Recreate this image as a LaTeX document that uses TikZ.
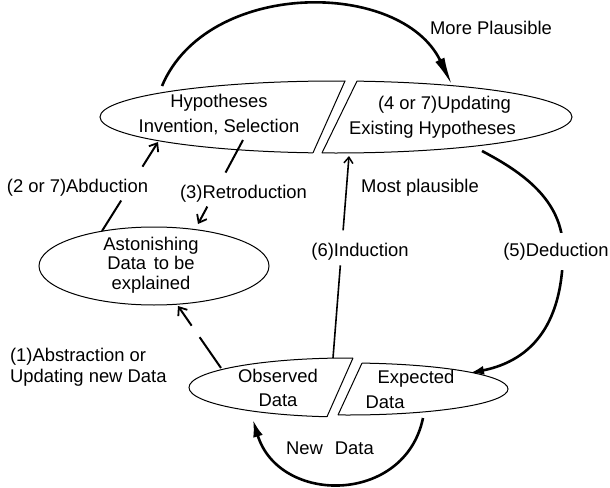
\documentclass[tikz,border=0pt]{standalone}
\usepackage{fontspec}
\setmainfont{Liberation Sans}
\usetikzlibrary{arrows.meta}
\begin{document}
\begin{tikzpicture}[x=1pt,y=-1pt,
  outline/.style={line width=1pt},
  lbl/.style={font=\fontsize{18.4pt}{22pt}\selectfont, inner sep=0pt},
  arcline/.style={line width=2.6pt},
  conn/.style={line width=2pt, -{Straight Barb[length=7pt,width=11pt,line width=1.8pt]}},
  thinconn/.style={line width=1.6pt, -{Straight Barb[length=6pt,width=9pt,line width=1.5pt]}},
]
\useasboundingbox (0,0) rectangle (610,487);

% ---- top ellipse, left piece
\begin{scope}
  \clip (90,60) -- (354.9,60) -- (305.3,170) -- (90,170) -- cycle;
  \draw[outline] (336,117) ellipse [x radius=236pt, y radius=36pt];
\end{scope}
\draw[outline] (345,81.0) -- (313,152.8);
% ---- top ellipse, right piece
\begin{scope}
  \clip (367.2,60) -- (590,60) -- (590,170) -- (313.7,170) -- cycle;
  \draw[outline] (336,117) ellipse [x radius=236pt, y radius=36pt];
\end{scope}
\draw[outline] (357,81.1) -- (322,152.9);
% ---- bottom ellipse, left piece
\begin{scope}
  \clip (180,340) -- (360.9,340) -- (321.3,430) -- (180,430) -- cycle;
  \draw[outline] (348,387.5) ellipse [x radius=159pt, y radius=29.5pt];
\end{scope}
\draw[outline] (353,358.0) -- (327,416.7);
% ---- bottom ellipse, right piece
\begin{scope}
  \clip (372.6,340) -- (520,340) -- (520,430) -- (331.1,430) -- cycle;
  \draw[outline] (348,389) ellipse [x radius=160pt, y radius=26pt];
\end{scope}
\draw[outline] (362,363.1) -- (338,415);
% ---- astonishing ellipse
\draw[outline] (154,266) ellipse [x radius=115pt, y radius=39pt];

% ---- texts in shapes
\node[lbl, align=center, font=\fontsize{18.4pt}{25pt}\selectfont] (hyp) at (219,114.2) {Hypotheses\\Invention, Selection};
\node[lbl, align=center, font=\fontsize{18.4pt}{25pt}\selectfont] (upd) at (432.5,117.7) {\hspace*{24pt}(4 or 7)Updating\\Existing Hypotheses};
\node[lbl, align=center, font=\fontsize{18.4pt}{19.5pt}\selectfont] (ast) at (151,264.8) {Astonishing\\Data\hspace{2.5pt} to be\\explained};
\node[lbl, align=center, font=\fontsize{18.4pt}{24pt}\selectfont] (obs) at (278,388.3) {Observed\\Data};
\node[lbl, align=left, font=\fontsize{18.4pt}{25pt}\selectfont] (expd) at (410,389.8) {\hspace*{12pt}Expected\\Data};

% ---- connector end points
\coordinate (mp-s) at (162,86);
\coordinate (mp-e) at (452,85);
\coordinate (ded-s) at (482,151);
\coordinate (ded-e) at (470,373);
\coordinate (nd-s) at (423,418);
\coordinate (nd-e) at (253,420);
\coordinate (abd-s) at (102,231);
\coordinate (abd-e) at (158,142);
\coordinate (ret-s) at (243,140);
\coordinate (ret-e) at (198,224);
\coordinate (ind-s) at (333,358);
\coordinate (ind-e) at (349,156);
\coordinate (abs-s) at (221,368);
\coordinate (abs-e) at (178,306);

% ---- curved connectors
\draw[arcline, -{Latex[length=28pt,width=10pt]}] (mp-s) .. controls (207,-21) and (401,-21) .. (mp-e);
\draw[arcline, -{Latex[length=14pt,width=9pt]}] (ded-s) .. controls (522,172) and (563,200) .. (563,250) .. controls (563,320) and (535,360) .. (ded-e);
\draw[arcline, -{Latex[length=17pt,width=10pt]}] (nd-s) .. controls (405,505) and (279,505) .. (nd-e);

% ---- straight connectors (broken where the picture breaks them)
\draw[conn, dash pattern=on 36pt off 40pt on 300pt off 1pt] (abd-s) -- (abd-e);
\draw[conn, dash pattern=on 37pt off 38.5pt on 300pt off 1pt] (ret-s) -- (ret-e);
\draw[thinconn, dash pattern=on 93pt off 35pt on 300pt off 1pt] (ind-s) -- (ind-e);
\draw[conn, dash pattern=on 37.5pt off 14pt on 300pt off 1pt] (abs-s) -- (abs-e);

% ---- labels
\node[lbl, anchor=base] (lmp) at (491,35) {More Plausible};
\node[lbl, anchor=base] (labd) at (77.5,192) {(2 or 7)Abduction};
\node[lbl, anchor=base] (lret) at (243.5,198) {(3)Retroduction};
\node[lbl, anchor=base] (lmost) at (420,192) {Most plausible};
\node[lbl, anchor=base] (lind) at (360,256) {(6)Induction};
\node[lbl, anchor=base, fill=white, inner xsep=1pt, inner ysep=10pt] (lded) at (556,256) {(5)Deduction};
\node[lbl, anchor=base] (lnd) at (330,454) {New\hspace{12pt}Data};
\node[lbl, align=left, font=\fontsize{18.4pt}{21pt}\selectfont] (labs) at (88.3,366.8) {(1)Abstraction or\\Updating new Data};
\end{tikzpicture}
\end{document}
